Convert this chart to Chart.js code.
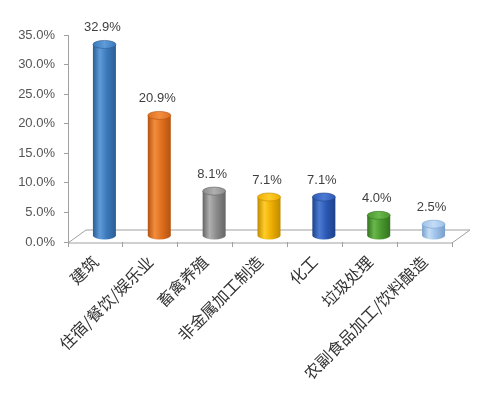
<!DOCTYPE html>
<html><head><meta charset="utf-8">
<script src="https://cdn.jsdelivr.net/npm/chart.js@4.4.0/dist/chart.umd.min.js"></script>
<style>html,body{margin:0;padding:0;background:#fff}#w{width:500px;height:395px}</style>
</head><body><div id="w"><canvas id="c" width="500" height="395"></canvas></div>
<script>
const categories = ['建筑','住宿/餐饮/娱乐业','畜禽养殖','非金属加工制造','化工','垃圾处理','农副食品加工/饮料酿造'];
const values = [32.9, 20.9, 8.1, 7.1, 7.1, 4.0, 2.5];
const yTicks = [0,5,10,15,20,25,30,35];
const barColors = [
  ['#2b5d96','#5f9bd8','#3b79bb'],
  ['#b4530f','#f28e3e','#df6f1f'],
  ['#656565','#b0b0b0','#8b8b8b'],
  ['#bf8a00','#ffcc2a','#eeae00'],
  ['#1d418a','#4d7bd3','#2c59b5'],
  ['#33731f','#6ab84c','#4a982e'],
  ['#789fca','#c4dcf6','#9dc1e9']
];
const DX = 9, DY = -3, RY = 4;

const cyl = {
  id:'cyl',
  beforeDatasetsDraw(chart){
    const {ctx, chartArea:a, scales:{y}} = chart;
    const fy = y.getPixelForValue(0) + 1;
    ctx.save();
    ctx.strokeStyle = '#a0a0a0'; ctx.lineWidth = 1;
    ctx.beginPath();
    ctx.moveTo(a.left, fy); ctx.lineTo(a.right, fy);
    ctx.lineTo(a.right + 18, fy - 13); ctx.lineTo(a.left + 18, fy - 13);
    ctx.closePath(); ctx.stroke();
    ctx.restore();
  },
  afterDatasetsDraw(chart){
    const {ctx} = chart;
    const meta = chart.getDatasetMeta(0);
    ctx.save();
    meta.data.forEach((el, i) => {
      const cx = el.x + DX, w = 23, rx = w/2;
      const top = el.y + DY, bot = el.base - 6;
      const [dk, lt, md] = barColors[i];
      const g = ctx.createLinearGradient(cx - rx, 0, cx + rx, 0);
      g.addColorStop(0, dk); g.addColorStop(0.3, lt); g.addColorStop(0.6, md); g.addColorStop(1, dk);
      ctx.fillStyle = g;
      ctx.beginPath();
      ctx.moveTo(cx - rx, top);
      ctx.lineTo(cx - rx, bot);
      ctx.ellipse(cx, bot, rx, RY, 0, Math.PI, 0, true);
      ctx.lineTo(cx + rx, top);
      ctx.closePath();
      ctx.fill();
      const g2 = ctx.createLinearGradient(cx - rx, 0, cx + rx, 0);
      g2.addColorStop(0, md); g2.addColorStop(0.5, lt); g2.addColorStop(1, md);
      ctx.fillStyle = g2;
      ctx.beginPath(); ctx.ellipse(cx, top, rx, RY, 0, 0, Math.PI*2); ctx.fill();
      ctx.strokeStyle = dk; ctx.lineWidth = 0.6; ctx.stroke();
      ctx.fillStyle = '#404040';
      ctx.font = '13px "Liberation Sans", Arial, sans-serif';
      ctx.textAlign = 'center'; ctx.textBaseline = 'middle';
      ctx.fillText(values[i].toFixed(1) + '%', cx - 2, top - 17);
    });
    ctx.restore();
  }
};

new Chart(document.getElementById('c'), {
  type: 'bar',
  data: { labels: categories, datasets: [{ data: values, backgroundColor: 'rgba(0,0,0,0)', borderWidth: 0 }] },
  options: {
    responsive: false, animation: false,
    layout: { padding: { left: 0, top: 35, right: 48, bottom: 0 } },
    plugins: { legend: { display: false }, tooltip: { enabled: false } },
    scales: {
      y: {
        min: 0, max: 35,
        afterBuildTicks: s => { s.ticks = yTicks.map(v => ({ value: v })); },
        afterFit: s => { s.width = 68; },
        grid: { drawOnChartArea: false, drawTicks: true, tickLength: 4, color: '#a0a0a0' },
        border: { display: true, color: '#a0a0a0' },
        ticks: { padding: 9, color: '#555', font: { family: '"Liberation Sans", Arial, sans-serif', size: 13 },
          callback: v => Number(v).toFixed(1) + '%' }
      },
      x: {
        offset: true,
        afterFit: s => { s.height = 395 - 242; },
        grid: { offset: true, drawOnChartArea: false, drawTicks: true, tickLength: 5, color: '#a0a0a0' },
        border: { display: false },
        ticks: { minRotation: 45, maxRotation: 45, padding: 5, color: '#333',
          font: { family: '"Noto Sans CJK SC", sans-serif', size: 16 } }
      }
    }
  },
  plugins: [cyl]
});
</script>
</body></html>
